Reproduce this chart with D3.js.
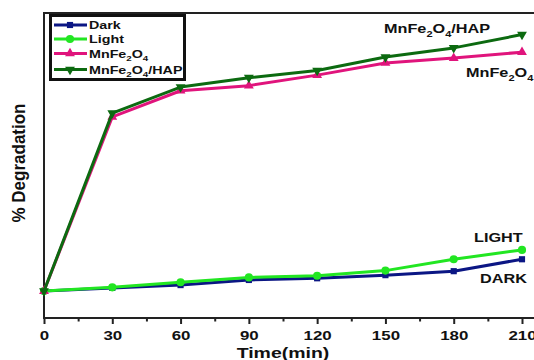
<!DOCTYPE html>
<html>
<head>
<meta charset="utf-8">
<script src="https://cdn.jsdelivr.net/npm/d3@7/dist/d3.min.js"></script>
<style>
  html, body { margin: 0; padding: 0; background: #fff; }
  svg { display: block; }
  text { font-family: Arial, "Liberation Sans", sans-serif; font-weight: bold; fill: #111; }
</style>
</head>
<body>
<svg id="chart" width="534" height="360"></svg>
<script>
// Time points (min)
const times = [0, 30, 60, 90, 120, 150, 180, 210];
const timeTicks = [0, 30, 60, 90, 120, 150, 180, 210];
const minorTicks = [15, 45, 75, 105, 135, 165, 195];

// % degradation for each run
const darkValues  = [0, 1.1, 2.1, 3.9, 4.5, 5.6, 7.0, 11.2];
const lightValues = [0, 1.3, 3.1, 4.8, 5.4, 7.2, 11.2, 14.5];
const mnfeValues  = [0, 61.4, 70.6, 72.4, 76.1, 80.4, 82.1, 84.2];
const hapValues   = [0, 62.7, 71.9, 75.2, 77.7, 82.5, 85.7, 90.4];

const series = [
  { key: "Dark",  values: darkValues,  color: "#0b1684", symbol: d3.symbolSquare,   size: 38, rot: 0 },
  { key: "Light", values: lightValues, color: "#22e622", symbol: d3.symbolCircle,   size: 52, rot: 0 },
  { key: "MnFe2O4", values: mnfeValues, color: "#e0147c", symbol: d3.symbolTriangle, size: 42, rot: 0 },
  { key: "MnFe2O4/HAP", values: hapValues, color: "#0c6a10", symbol: d3.symbolTriangle, size: 42, rot: 180 }
];

const SX = 1.3; // horizontal stretch applied to all lettering

const svg = d3.select("#chart");
const x = d3.scaleLinear().domain([0, 210]).range([44, 522]);
const y = d3.scaleLinear().domain([-9.5, 98]).range([318, 13]);

// plot frame (right edge lies past the visible area)
svg.append("rect")
  .attr("x", x(0)).attr("y", y(98))
  .attr("width", 560 - x(0)).attr("height", y(-9.5) - y(98))
  .attr("fill", "none").attr("stroke", "#222").attr("stroke-width", 2);

// bottom axis: major and minor ticks
const axisG = svg.append("g").attr("transform", `translate(0,${y(-9.5)})`);
axisG.call(d3.axisBottom(x).tickValues(timeTicks).tickSize(6).tickPadding(6.5).tickFormat(d3.format("d")))
  .call(g => g.select(".domain").remove());
axisG.selectAll(".tick line").attr("stroke", "#222").attr("stroke-width", 2);
axisG.selectAll(".tick text")
  .attr("font-size", 13).attr("font-family", "Arial, 'Liberation Sans', sans-serif")
  .attr("font-weight", "bold").attr("fill", "#111")
  .attr("transform", `scale(${SX},1)`);

const minorG = svg.append("g").attr("transform", `translate(0,${y(-9.5)})`);
minorG.call(d3.axisBottom(x).tickValues(minorTicks).tickSize(3.5).tickFormat(""))
  .call(g => g.select(".domain").remove());
minorG.selectAll(".tick line").attr("stroke", "#222").attr("stroke-width", 2);

// axis titles
svg.append("g").attr("transform", `translate(283,358) scale(${SX},1)`)
  .append("text").attr("text-anchor", "middle").attr("font-size", 15).text("Time(min)");
svg.append("g").attr("transform", "translate(25,163) rotate(-90) scale(1,1.05)")
  .append("text").attr("text-anchor", "middle").attr("font-size", 17).text("% Degradation");

// series lines and markers
const line = d3.line().x((d, i) => x(times[i])).y(d => y(d));
series.forEach(s => {
  svg.append("path").datum(s.values)
    .attr("d", line).attr("fill", "none")
    .attr("stroke", s.color).attr("stroke-width", 3).attr("stroke-linejoin", "round");
  svg.append("g").selectAll("path").data(s.values).join("path")
    .attr("d", d3.symbol().type(s.symbol).size(s.size))
    .attr("transform", (d, i) => `translate(${x(times[i])},${y(d)}) rotate(${s.rot})`)
    .attr("fill", s.color);
});

// writes chemical formula with subscripted digits
function formula(textSel, str, size) {
  const parts = str.match(/\d+|[^\d]+/g);
  let sub = false;
  parts.forEach(p => {
    const isNum = /^\d+$/.test(p);
    const t = textSel.append("tspan").text(p);
    if (isNum) {
      t.attr("font-size", size * 0.68).attr("dy", size * 0.28);
      sub = true;
    } else {
      t.attr("font-size", size);
      if (sub) { t.attr("dy", -size * 0.28); sub = false; }
    }
  });
}

function label(str, px, py, size) {
  const t = svg.append("g").attr("transform", `translate(${px},${py}) scale(${SX},1)`)
    .append("text").attr("font-size", size);
  formula(t, str, size);
}

// direct labels
label("MnFe2O4/HAP", 384, 33, 12.5);
label("MnFe2O4", 466, 77, 12.5);
label("LIGHT", 474, 242, 12.5);
label("DARK", 480, 283, 12.5);

// legend
const legend = svg.append("g");
legend.append("rect").attr("x", 50.5).attr("y", 15.5).attr("width", 134).attr("height", 64)
  .attr("fill", "#fff").attr("stroke", "#111").attr("stroke-width", 3);
const rowY = [25, 39, 53.5, 69.5];
series.forEach((s, i) => {
  const ry = rowY[i];
  legend.append("line").attr("x1", 54).attr("x2", 87).attr("y1", ry).attr("y2", ry)
    .attr("stroke", s.color).attr("stroke-width", 3);
  legend.append("path").attr("d", d3.symbol().type(s.symbol).size(s.size))
    .attr("transform", `translate(70,${ry}) rotate(${s.rot})`).attr("fill", s.color);
  const t = legend.append("g").attr("transform", `translate(89,${ry + 4}) scale(${SX},1)`)
    .append("text").attr("font-size", 11);
  formula(t, s.key, 11);
});
</script>
</body>
</html>
